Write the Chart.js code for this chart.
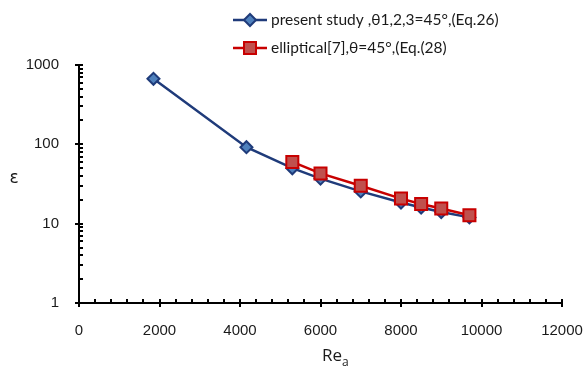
<!DOCTYPE html>
<html>
<head>
<meta charset="utf-8">
<title>Rea vs epsilon</title>
<script src="https://cdn.jsdelivr.net/npm/chart.js@4.4.1/dist/chart.umd.min.js"></script>
<style>
  html, body { margin: 0; padding: 0; background: #fff; }
  #chartWrap { width: 585px; height: 372px; }
</style>
</head>
<body>
<div id="chartWrap"><canvas id="epsChart" width="585" height="372"></canvas></div>
<script>
// Values
const presentRe = [1850, 4160, 5300, 6000, 7000, 8000, 8500, 9000, 9700];
const presentEps = [670, 92, 50, 37, 25.5, 18.5, 16, 14, 12];
const ellipticRe = [5300, 6000, 7000, 8000, 8500, 9000, 9700];
const ellipticEps = [60, 43, 30, 20.7, 17.7, 15.5, 12.8];
const seriesLabels = ['present study ,θ1,2,3=45°,(Eq.26)', 'elliptical[7],θ=45°,(Eq.(28)'];
const xTickValues = [0, 2000, 4000, 6000, 8000, 10000, 12000];
const yTickValues = [1, 10, 100, 1000];

(function() {
    'use strict';

    const TEXT_COLOR = '#1a1a1a';
    const TICK_FONT = { family: 'Liberation Sans', size: 15 };
    const LEGEND_FONT = '15.5px Lato';

    /**
     * Pair up x and y arrays into points for a scatter dataset
     */
    function toPoints(xs, ys) {
        return xs.map((x, i) => ({ x: x, y: ys[i] }));
    }

    /**
     * Excel style tick marks: major ones cross the axis, minor ones sit inside
     */
    const axisTicksPlugin = {
        id: 'axisTicks',
        afterDraw(chart) {
            const ctx = chart.ctx;
            const xs = chart.scales.x;
            const ys = chart.scales.y;
            const area = chart.chartArea;
            const step = xTickValues[1] - xTickValues[0];

            ctx.save();
            ctx.strokeStyle = '#000';
            ctx.lineWidth = 2;
            ctx.beginPath();

            // x axis, minor every step / 5
            for (let v = xs.min; v <= xs.max; v += step / 5) {
                const px = Math.round(xs.getPixelForValue(v));
                const major = xTickValues.includes(v);
                ctx.moveTo(px, area.bottom + (major ? 4 : 0));
                ctx.lineTo(px, area.bottom - 4);
            }

            // y axis, log decades with 2..9 minors
            yTickValues.forEach((dec, i) => {
                const py = Math.round(ys.getPixelForValue(dec));
                ctx.moveTo(area.left - 4, py);
                ctx.lineTo(area.left + 4, py);
                if (i === yTickValues.length - 1) return;
                for (let m = 2; m <= 9; m++) {
                    const pm = Math.round(ys.getPixelForValue(dec * m));
                    ctx.moveTo(area.left, pm);
                    ctx.lineTo(area.left + 4, pm);
                }
            });
            ctx.stroke();

            // axis titles (ε upright, Re with subscript a)
            ctx.fillStyle = TEXT_COLOR;
            ctx.textBaseline = 'middle';
            ctx.textAlign = 'center';
            ctx.font = '17px "DejaVu Sans"';
            ctx.fillText('ε', 14, 179);

            ctx.textAlign = 'left';
            ctx.font = '17px "Open Sans"';
            ctx.fillText('Re', 322, 356);
            const reW = ctx.measureText('Re').width;
            ctx.font = '12px "Open Sans"';
            ctx.fillText('a', 322 + reW, 363);
            ctx.restore();
        }
    };

    /**
     * Legend drawn as two left-aligned rows in the top right corner
     */
    const sideLegendPlugin = {
        id: 'sideLegend',
        afterDraw(chart) {
            const ctx = chart.ctx;
            const rows = [20, 48];
            ctx.save();
            chart.data.datasets.forEach((ds, i) => {
                const y = rows[i];
                ctx.strokeStyle = ds.borderColor;
                ctx.lineWidth = ds.borderWidth;
                ctx.beginPath();
                ctx.moveTo(233, y);
                ctx.lineTo(267, y);
                ctx.stroke();

                ctx.fillStyle = ds.pointBackgroundColor;
                ctx.strokeStyle = ds.pointBorderColor;
                ctx.lineWidth = ds.pointBorderWidth;
                Chart.helpers.drawPoint(ctx, {
                    pointStyle: ds.pointStyle,
                    radius: ds.pointRadius,
                    borderWidth: ds.pointBorderWidth,
                    rotation: 0
                }, 250, y);

                ctx.fillStyle = TEXT_COLOR;
                ctx.font = LEGEND_FONT;
                ctx.textAlign = 'left';
                ctx.textBaseline = 'middle';
                ctx.fillText(ds.label, 271, y);
            });
            ctx.restore();
        }
    };

    function initChart() {
        const canvas = document.getElementById('epsChart');
        if (!canvas) return;

        new Chart(canvas.getContext('2d'), {
            type: 'scatter',
            data: {
                datasets: [{
                    label: seriesLabels[0],
                    data: toPoints(presentRe, presentEps),
                    order: 2,
                    showLine: true,
                    borderColor: '#1f3b7a',
                    borderWidth: 2.5,
                    pointStyle: 'rectRot',
                    pointRadius: 6,
                    pointBackgroundColor: '#4f81bd',
                    pointBorderColor: '#1f3b7a',
                    pointBorderWidth: 2
                }, {
                    label: seriesLabels[1],
                    data: toPoints(ellipticRe, ellipticEps),
                    order: 1,
                    showLine: true,
                    borderColor: '#c80000',
                    borderWidth: 2.5,
                    pointStyle: 'rect',
                    pointRadius: 8.5,
                    pointBackgroundColor: '#c0504d',
                    pointBorderColor: '#c80000',
                    pointBorderWidth: 2
                }]
            },
            options: {
                responsive: false,
                animation: false,
                devicePixelRatio: 1,
                events: [],
                layout: { padding: { left: 0, right: 23, top: 65, bottom: 0 } },
                plugins: {
                    legend: { display: false },
                    tooltip: { enabled: false }
                },
                scales: {
                    x: {
                        type: 'linear',
                        min: xTickValues[0],
                        max: xTickValues[xTickValues.length - 1],
                        afterFit: s => {
                            s.height = 69;
                            s.paddingLeft = 0;
                            s.paddingRight = 0;
                        },
                        grid: { display: false },
                        border: { display: true, color: '#000', width: 2 },
                        ticks: {
                            stepSize: xTickValues[1] - xTickValues[0],
                            padding: 11,
                            color: TEXT_COLOR,
                            font: TICK_FONT,
                            maxRotation: 0,
                            callback: v => String(v)
                        }
                    },
                    y: {
                        type: 'logarithmic',
                        min: yTickValues[0],
                        max: yTickValues[yTickValues.length - 1],
                        afterFit: s => { s.width = 79; },
                        grid: { display: false },
                        border: { display: true, color: '#000', width: 2 },
                        ticks: {
                            autoSkip: false,
                            padding: 12,
                            color: TEXT_COLOR,
                            font: TICK_FONT,
                            callback: v => yTickValues.includes(v) ? String(v) : ''
                        }
                    }
                }
            },
            plugins: [axisTicksPlugin, sideLegendPlugin]
        });
    }

    initChart();
})();
</script>
</body>
</html>
